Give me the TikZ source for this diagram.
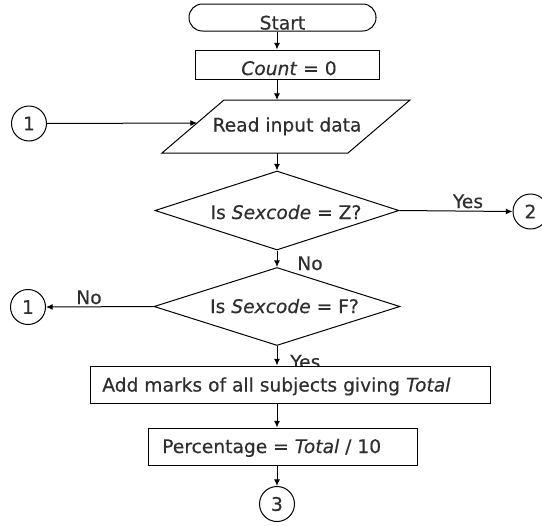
\documentclass[tikz,border=0pt]{standalone}
\usepackage{fontspec}
\setmainfont[FakeBold=0.35]{DejaVu Sans}
\usetikzlibrary{shapes.geometric,arrows.meta}
\definecolor{txt}{HTML}{2E2E2E}
\begin{document}
\begin{tikzpicture}[x=0.75pt,y=-0.75pt,
  font=\fontsize{14pt}{16pt}\selectfont,
  lbl/.style={inner sep=0pt,text=txt,anchor=base},
  lblw/.style={inner sep=0pt,text=txt,anchor=base west},
  boxshape/.style={draw=black,line width=0.75pt,fill=white,inner sep=0pt},
  conn/.style={draw=black,line width=0.75pt},
  arr/.style={conn,-{Latex[length=5pt,width=4.5pt]}},
  con/.style={boxshape,circle,minimum size=26.25pt,text=txt}]
\clip (0,0) rectangle (542,525);
\fill[white] (0,0) rectangle (542,525);
\coordinate (spine) at (277,0);
% shapes
\node[boxshape,rounded corners=10pt,minimum width=140.25pt,minimum height=20.25pt] (start) at (282.5,17.5) {};
\node[boxshape,minimum width=138pt,minimum height=21.75pt] (count) at (287,64.5) {};
\coordinate (rTL) at (224,100);
\coordinate (rTR) at (410,100);
\coordinate (rBR) at (348,153);
\coordinate (rBL) at (162,153);
\coordinate (rtop) at (277,100);
\coordinate (rbot) at (277,153);
\coordinate (rleft) at (197,123);
\draw[conn,fill=white] (rTL) -- (rTR) -- (rBR) -- (rBL) -- cycle;
\node[boxshape,diamond,minimum width=183pt,minimum height=59.25pt] (d1) at (277,210.5) {};
\node[boxshape,diamond,minimum width=184.5pt,minimum height=58.5pt] (d2) at (277,306.5) {};
\node[con] (c1a) at (29,123.5) {1};
\node[con] (c1b) at (28,307) {1};
\node[con] (c2) at (530.5,211.5) {2};
\node[con] (c3) at (277,504) {3};
% labels
\node[lbl] (tstart) at (282.5,29.5) {Start};
\node[lbl] (tcount) at (289,75) {\textit{Count} = 0};
\node[lbl] (tread) at (287,131.5) {Read input data};
\node[lbl] (td1) at (286,219) {Is \textit{Sexcode} = Z?};
\node[lbl] (td2) at (284.5,313) {Is \textit{Sexcode} = F?};
\node[lbl] (yes1) at (468,208) {Yes};
\node[lbl] (no1) at (310,270) {No};
\node[lbl] (no2) at (89,304) {No};
\node[lblw] (yes2) at (290,368.5) {Yes};
% lower boxes (drawn over the lower Yes label)
\node[boxshape,minimum width=300pt,minimum height=27.75pt] (add) at (290,384.5) {};
\node[boxshape,minimum width=201.75pt,minimum height=27.75pt] (pct) at (282.5,446.5) {};
\node[lblw] (tadd) at (102,391.5) {Add marks of all subjects giving \textit{Total}};
\node[lblw] (tpct) at (162,453) {Percentage = \textit{Total} / 10};
% connectors
\draw[arr] (start.south -| spine) -- (count.north -| spine);
\draw[arr] (count.south -| spine) -- (rtop);
\draw[arr] (c1a.east) -- (rleft);
\draw[arr] (rbot) -- (d1.north);
\draw[arr] (d1.east) -- (c2.west);
\draw[arr] (d1.south) -- (d2.north);
\draw[arr] (d2.west) -- (c1b.east);
\draw[arr] (d2.south) -- (add.north -| spine);
\draw[arr] (add.south -| spine) -- (pct.north -| spine);
\draw[arr] (pct.south -| spine) -- (c3.north);
\end{tikzpicture}
\end{document}
